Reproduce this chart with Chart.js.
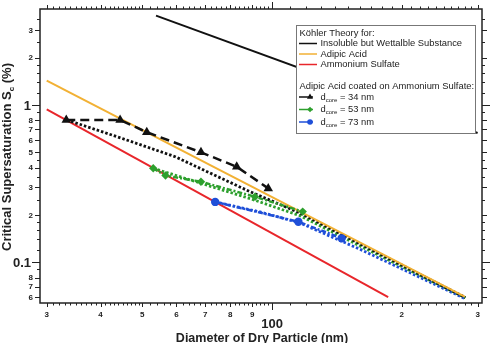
<!DOCTYPE html>
<html>
<head>
<meta charset="utf-8">
<script src="https://cdn.jsdelivr.net/npm/chart.js@4.4.1/dist/chart.umd.min.js"></script>
<style>
  html, body { margin: 0; padding: 0; background: #fff; }
  #wrap { width: 491px; height: 343px; }
</style>
</head>
<body>
<div id="wrap"><canvas id="kohler-chart" width="491" height="343"></canvas></div>
<script>
// ---- tick labels ----
const xTicks = [30, 40, 50, 60, 70, 80, 90, 100, 200, 300];
const xTickLabels = ["3", "4", "5", "6", "7", "8", "9", "100", "2", "3"];
const yTicks = [0.06, 0.07, 0.08, 0.1, 0.2, 0.3, 0.4, 0.5, 0.6, 0.7, 0.8, 1, 2, 3];
const yTickLabels = ["6", "7", "8", "0.1", "2", "3", "4", "5", "6", "7", "8", "1", "2", "3"];

// ---- Köhler theory lines (diameter nm, Sc %) ----
const insolubleD = [53.8, 300];
const insolubleS = [3.70, 0.663];
const adipicD = [30, 280];
const adipicS = [1.43, 0.0604];
const sulfateD = [30, 186];
const sulfateS = [0.939, 0.060];

// ---- adipic acid coated on ammonium sulfate ----
const core34D = [33.3, 44.4, 51.2, 68.4, 82.8, 98.0];
const core34S = [0.803, 0.803, 0.671, 0.500, 0.405, 0.295];
const core34FitD = [33.4, 44.8, 59.6, 88.9, 116, 160, 281];
const core34FitS = [0.803, 0.614, 0.469, 0.281, 0.206, 0.131, 0.0597];

const core53D = [53.0, 56.6, 68.4, 91.3, 117.8];
const core53S = [0.396, 0.356, 0.325, 0.261, 0.210];
const core53FitD = [53.0, 68.1, 88.9, 116, 160, 281];
const core53FitS = [0.396, 0.319, 0.254, 0.198, 0.127, 0.0595];

const core73D = [73.8, 115.1, 145.1];
const core73S = [0.242, 0.181, 0.142];
const core73FitD = [73.8, 93.8, 116, 160, 280];
const core73FitS = [0.242, 0.209, 0.178, 0.121, 0.0589];

const BLACK = "#111111";
const ORANGE = "#F2B134";
const RED = "#E8262B";
const GREEN = "#2EA02E";
const BLUE = "#1F4FD8";
const FONT = "'Liberation Sans', Arial, sans-serif";

const pts = (xs, ys) => xs.map((d, i) => ({ x: d, y: ys[i] }));

function line(data, color, width, dash, order) {
  return {
    data: data,
    showLine: true,
    borderColor: color,
    backgroundColor: color,
    borderWidth: width,
    borderDash: dash,
    pointRadius: 0,
    pointHoverRadius: 0,
    order: order,
  };
}

function markers(data, color, style, radius, dash, order) {
  return {
    data: data,
    showLine: true,
    borderColor: color,
    backgroundColor: color,
    borderWidth: 2.5,
    borderDash: dash,
    pointStyle: style,
    pointRadius: radius,
    pointBorderWidth: 0,
    pointBackgroundColor: color,
    order: order,
  };
}

// ---- minor ticks (for drawing only) ----
const xMinor = [];
for (let d = 31; d < 50; d++) if (d % 10) xMinor.push(d);
for (let d = 52; d < 100; d += 2) if (d % 10) xMinor.push(d);
for (let d = 110; d < 300; d += 10) if (d !== 200) xMinor.push(d);
const yMinor = [0.09, 0.12, 0.14, 0.16, 0.18, 0.25, 0.35, 0.45, 0.9, 1.2, 1.4, 1.6, 1.8, 2.5, 3.5];

const framePlugin = {
  id: "frame",
  afterDraw(chart) {
    const { ctx, chartArea: a } = chart;
    const x = chart.scales.x;
    const y = chart.scales.y;
    ctx.save();
    ctx.strokeStyle = "#222";
    ctx.lineWidth = 1.5;
    ctx.strokeRect(a.left, a.top, a.right - a.left, a.bottom - a.top);

    ctx.lineWidth = 1;
    const vTick = (v, len) => {
      const p = Math.round(x.getPixelForValue(v)) + 0.5;
      ctx.beginPath();
      ctx.moveTo(p, a.bottom); ctx.lineTo(p, a.bottom + len);
      ctx.moveTo(p, a.top); ctx.lineTo(p, a.top - len);
      ctx.stroke();
    };
    const hTick = (v, len) => {
      const p = Math.round(y.getPixelForValue(v)) + 0.5;
      ctx.beginPath();
      ctx.moveTo(a.left, p); ctx.lineTo(a.left - len, p);
      ctx.moveTo(a.right, p); ctx.lineTo(a.right + len, p);
      ctx.stroke();
    };
    xMinor.forEach((v) => vTick(v, 2.5));
    xTicks.forEach((v) => vTick(v, v === 100 ? 7 : 4));
    yMinor.forEach((v) => hTick(v, 3));
    yTicks.forEach((v) => hTick(v, v === 1 || v === 0.1 ? 8 : 5));

    // x tick labels
    ctx.fillStyle = "#222";
    ctx.textAlign = "center";
    ctx.textBaseline = "alphabetic";
    xTicks.forEach((v, i) => {
      const p = x.getPixelForValue(v);
      if (v === 100) {
        ctx.font = "bold 13px " + FONT;
        ctx.fillText(xTickLabels[i], p, a.bottom + 25);
      } else {
        ctx.font = "bold 8px " + FONT;
        ctx.fillText(xTickLabels[i], p, a.bottom + 14);
      }
    });
    // y tick labels
    ctx.textAlign = "right";
    ctx.textBaseline = "middle";
    yTicks.forEach((v, i) => {
      const p = y.getPixelForValue(v);
      if (v === 1 || v === 0.1) {
        ctx.font = "bold 13px " + FONT;
        ctx.fillText(yTickLabels[i], a.left - 9, p + 1);
      } else {
        ctx.font = "bold 8px " + FONT;
        ctx.fillText(yTickLabels[i], a.left - 7, p + 0.5);
      }
    });

    // axis titles
    ctx.font = "bold 12.5px " + FONT;
    ctx.textAlign = "center";
    ctx.textBaseline = "alphabetic";
    ctx.fillText("Diameter of Dry Particle (nm)", 262, 342);

    ctx.translate(11, 157);
    ctx.rotate(-Math.PI / 2);
    const part1 = "Critical Supersaturation S";
    const part3 = " (%)";
    ctx.font = "bold 13px " + FONT;
    const w1 = ctx.measureText(part1).width;
    const w3 = ctx.measureText(part3).width;
    ctx.font = "bold 8px " + FONT;
    const w2 = ctx.measureText("c").width;
    let sx = -(w1 + w2 + w3) / 2;
    ctx.textAlign = "left";
    ctx.font = "bold 13px " + FONT;
    ctx.fillText(part1, sx, 0);
    ctx.font = "bold 8px " + FONT;
    ctx.fillText("c", sx + w1, 3);
    ctx.font = "bold 13px " + FONT;
    ctx.fillText(part3, sx + w1 + w2, 0);
    ctx.restore();
  },
};

// legend box inside the plot
const legendPlugin = {
  id: "boxLegend",
  afterDatasetsDraw(chart) {
    const ctx = chart.ctx;
    const LF = "9.4px " + FONT;
    ctx.save();
    ctx.fillStyle = "#fff";
    ctx.fillRect(296, 25, 179, 108);
    ctx.strokeStyle = "#777";
    ctx.lineWidth = 1;
    ctx.strokeRect(296.5, 25.5, 179, 108);

    ctx.fillStyle = "#222";
    ctx.textBaseline = "middle";
    ctx.textAlign = "left";
    ctx.font = LF;
    ctx.fillText("Köhler Theory for:", 299.5, 33.5);
    ctx.fillText("Adipic Acid coated on Ammonium Sulfate:", 299.5, 86);

    const items = [
      { text: "Insoluble but Wettalble Substance", color: BLACK, y: 43.5 },
      { text: "Adipic Acid", color: ORANGE, y: 54 },
      { text: "Ammonium Sulfate", color: RED, y: 64.5 },
    ];
    items.forEach((it) => {
      ctx.strokeStyle = it.color;
      ctx.lineWidth = 1.5;
      ctx.beginPath();
      ctx.moveTo(299, it.y); ctx.lineTo(317, it.y);
      ctx.stroke();
      ctx.fillStyle = "#222";
      ctx.font = LF;
      ctx.fillText(it.text, 320.5, it.y);
    });

    const cores = [
      { size: "34", color: BLACK, style: "triangle", r: 3.5, y: 97 },
      { size: "53", color: GREEN, style: "rectRot", r: 2.8, y: 109.5 },
      { size: "73", color: BLUE, style: "circle", r: 2.8, y: 122 },
    ];
    cores.forEach((c) => {
      ctx.strokeStyle = c.color;
      ctx.fillStyle = c.color;
      ctx.lineWidth = 1.5;
      ctx.beginPath();
      ctx.moveTo(299, c.y); ctx.lineTo(313, c.y);
      ctx.stroke();
      Chart.helpers.drawPoint(ctx, { pointStyle: c.style, radius: c.r, borderWidth: 0 }, 310, c.y);
      ctx.fillStyle = "#222";
      ctx.font = LF;
      ctx.fillText("d", 320.5, c.y);
      const wd = ctx.measureText("d").width;
      ctx.font = "6px " + FONT;
      ctx.fillText("core", 320.5 + wd, c.y + 3);
      const wc = ctx.measureText("core").width;
      ctx.font = LF;
      ctx.fillText(" = " + c.size + " nm", 320.5 + wd + wc, c.y);
    });
    ctx.restore();
  },
};

const kohlerChart = document.getElementById("kohler-chart");
const chart = new Chart(kohlerChart, {
  type: "scatter",
  data: {
    datasets: [
      line(pts(sulfateD, sulfateS), RED, 2, [], 20),
      line(pts(insolubleD, insolubleS), BLACK, 2, [], 19),
      line(pts(core73FitD, core73FitS), BLUE, 2.8, [2.5, 2], 18),
      line(pts(core53FitD, core53FitS), GREEN, 2.8, [2.5, 2], 17),
      line(pts(core34FitD, core34FitS), BLACK, 2.8, [2.5, 2], 16),
      line(pts(adipicD, adipicS), ORANGE, 2, [], 15),
      markers(pts(core73D, core73S), BLUE, "circle", 4.2, [5, 2, 2, 2], 3),
      markers(pts(core53D, core53S), GREEN, "rectRot", 4.2, [5, 2, 2, 2], 2),
      markers(pts(core34D, core34S), BLACK, "triangle", 5.5, [9, 5], 1),
    ],
  },
  options: {
    responsive: false,
    devicePixelRatio: 1,
    animation: false,
    layout: {
      padding: { left: 0, top: 9, right: 9, bottom: 0 },
    },
    plugins: {
      legend: { display: false },
      tooltip: { enabled: false },
    },
    scales: {
      x: {
        type: "logarithmic",
        bounds: "data",
        min: 28.94,
        max: 307.1,
        ticks: { display: false },
        grid: { display: false },
        border: { display: false },
        afterFit: (s) => { s.height = 40; },
      },
      y: {
        type: "logarithmic",
        bounds: "data",
        min: 0.0551,
        max: 4.076,
        ticks: { display: false },
        grid: { display: false },
        border: { display: false },
        afterFit: (s) => { s.width = 40; },
      },
    },
  },
  plugins: [legendPlugin, framePlugin],
});
</script>
</body>
</html>
